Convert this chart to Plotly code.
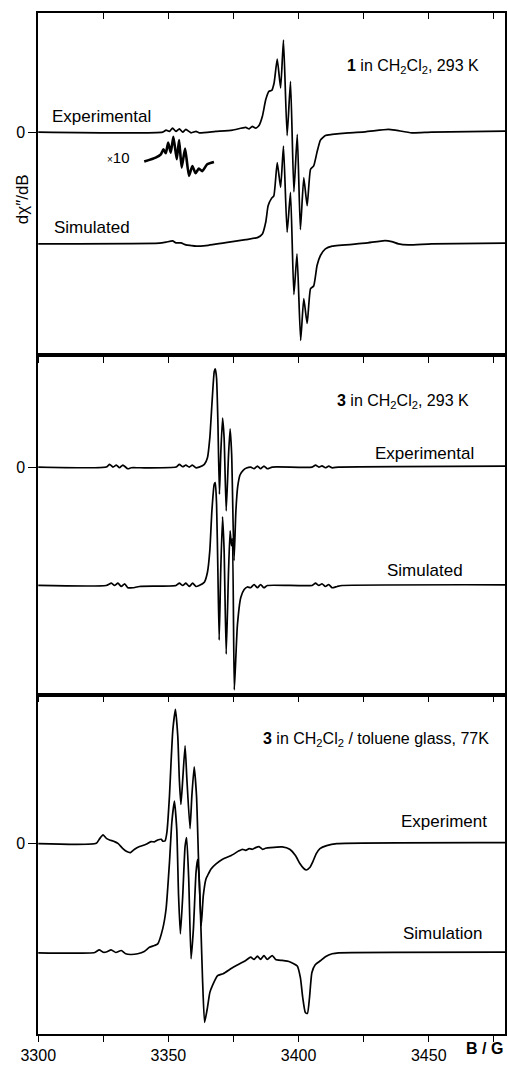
import plotly.graph_objects as go

# ---------------- data (B in Gauss, signal in arbitrary units) ----------------
TICK_B = [3300, 3325, 3350, 3375, 3400, 3425, 3450, 3475]
TICK_TEXT = ["3300", "", "3350", "", "3400", "", "3450", ""]

# Panel 1 : 1 in CH2Cl2, 293 K
P1_EXP_B = [3300.0, 3347.8, 3349.1, 3350.4, 3351.6, 3352.9, 3354.2, 3355.5, 3356.7, 3358.7,
            3360.6, 3361.8, 3368.2, 3374.6, 3379.7, 3381.0, 3382.2, 3383.5, 3384.8, 3386.1,
            3387.4, 3388.6, 3389.7, 3390.6, 3391.8, 3393.1, 3394.2, 3395.6, 3396.9, 3398.2,
            3399.5, 3400.7, 3402.0, 3403.3, 3404.6, 3405.8, 3407.1, 3408.4, 3410.3, 3412.9,
            3419.2, 3425.6, 3434.5, 3437.1, 3443.5, 3451.1, 3479.3]
P1_EXP_Y = [0, 0, 2.0, 0.7, 4.0, 0.7, 3.3, 0, 2.7, -0.7,
            0.7, -0.7, 0.7, 2.0, 4.7, 3.3, 5.7, 4.0, 6.7, 16,
            32.7, 41, 42, 49.4, 73.4, 44.4, 92.5, -3.5, 51, -60,
            -2.3, -98, -45.7, -74, -37.3, -34, -20, -8, -3.3, -2.3,
            -0.7, 0.3, 2.7, 2.0, -0.7, 0, 1.0]
P1_SIM_B = [3300.0, 3346.5, 3349.1, 3351.6, 3352.9, 3354.8, 3356.7, 3358.7, 3360.6, 3364.4,
            3374.6, 3379.7, 3384.2, 3386.1, 3387.4, 3388.3, 3389.6, 3390.5, 3391.8, 3393.1,
            3394.2, 3395.6, 3396.9, 3398.2, 3399.4, 3400.8, 3402.0, 3403.3, 3404.6, 3405.8,
            3407.1, 3408.4, 3410.3, 3412.9, 3425.6, 3433.2, 3435.8, 3438.4, 3442.2, 3451.1,
            3479.3]
P1_SIM_Y = [0, 0.7, 1.7, 3.0, 1.0, 1.0, -1.0, -1.7, -2.3, -1.7,
            2.3, 4.3, 6.3, 10, 22, 38.3, 45.7, 48.3, 81.7, 56.7,
            98.3, 11.7, 51.7, -51, -10, -97, -55, -80, -45, -42.3,
            -21.7, -11.7, -5, -2.3, 0.7, 3.3, 2.3, 0, -1, 0,
            0.7]
P1_X10_B = [3340.7, 3345.1, 3347.1, 3348.1, 3349.0, 3349.9, 3350.9, 3351.9, 3353.2, 3354.1,
            3355.1, 3356.4, 3357.9, 3359.2, 3360.4, 3361.7, 3363.0, 3364.9, 3367.5]
P1_X10_Y = [-29.6, -25.6, -22.3, -17.3, -21.3, -10.6, -20.6, -4.6, -27.3, -8,
            -35.6, -16.6, -44, -34, -41.3, -36.6, -39.3, -32.3, -30]

# Panel 2 : 3 in CH2Cl2, 293 K
P2_EXP_B = [3300.0, 3326.1, 3327.4, 3328.7, 3330.0, 3331.2, 3332.5, 3334.4, 3335.7, 3338.9,
            3352.9, 3354.2, 3355.5, 3356.7, 3358.0, 3359.2, 3360.5, 3361.8, 3363.8, 3365.0,
            3365.9, 3366.7, 3367.6, 3368.0, 3368.5, 3369.0, 3369.6, 3370.1, 3370.8, 3371.4,
            3372.2, 3373.1, 3373.7, 3374.3, 3375.2, 3375.9, 3376.6, 3377.5, 3378.8, 3380.0,
            3381.6, 3382.9, 3384.2, 3385.4, 3386.7, 3388.0, 3389.9, 3405.2, 3406.5, 3407.8,
            3409.0, 3410.3, 3411.6, 3412.9, 3415.4, 3479.3]
P2_EXP_Y = [0, 0, 2.7, 0, 2, -0.7, 2, -1.7, -0.7, -0.7,
            0, 2.7, 0.3, 2, 0, 2, -0.7, 0, 2.7, 9.3,
            29.3, 62.7, 96, 98.7, 89.3, 46, -27.3, 12.7, 49.3, 29.3,
            -44, 12.7, 38.5, 12.7, -94, -45, -20, -8, -3, -1,
            0, -1.7, 1, -1.7, 1, -1.7, 0, 0, 2, 0,
            1.3, -0.7, 1, -0.7, 0, 1]
P2_SIM_B = [3300.0, 3326.1, 3328.1, 3329.3, 3330.6, 3331.9, 3333.2, 3334.4, 3336.3, 3338.9,
            3352.9, 3354.2, 3355.5, 3356.7, 3358.0, 3359.3, 3360.6, 3361.8, 3363.8, 3365.0,
            3365.9, 3366.7, 3367.6, 3368.0, 3368.5, 3369.0, 3369.5, 3370.1, 3370.8, 3371.4,
            3372.2, 3373.1, 3373.7, 3374.2, 3374.6, 3375.3, 3375.9, 3376.5, 3377.8, 3379.1,
            3380.3, 3381.6, 3382.9, 3384.2, 3385.4, 3386.7, 3388.0, 3405.2, 3406.5, 3407.8,
            3409.0, 3410.3, 3411.6, 3412.9, 3414.8, 3416.7, 3479.3]
P2_SIM_Y = [0, 0, 2.3, 0, 2.3, -1, 1.7, -2.3, -2.3, -1,
            0, 2.3, 0, 2.3, -1, 2.3, -1, 0, 3.3, 13.3,
            35, 75, 101.7, 103.3, 81.7, 15, -55, 15, 69, 35,
            -69, 15, 55, 40, 47, -105, -72, -40, -12, -4,
            -1.5, -2.3, 1, -2.3, 1, -2.3, 0, 0, 2.3, 0,
            1.7, -1, 1, -2.3, -1, 0, 0.7]

# Panel 3 : 3 in CH2Cl2 / toluene glass, 77 K
P3_EXP_B = [3300.0, 3322.3, 3323.6, 3324.9, 3326.3, 3327.4, 3329.3, 3330.6, 3332.5, 3334.0,
            3335.4, 3337.0, 3338.9, 3341.4, 3343.3, 3344.6, 3345.9, 3347.3, 3347.8, 3348.7,
            3349.4, 3350.4, 3351.0, 3351.7, 3352.7, 3353.6, 3354.2, 3354.8, 3355.5, 3356.4,
            3357.1, 3358.3, 3359.0, 3359.9, 3360.8, 3361.6, 3362.6, 3363.4, 3364.4, 3365.0,
            3366.3, 3368.2, 3370.8, 3373.9, 3377.1, 3378.4, 3379.7, 3381.0, 3382.2, 3383.5,
            3384.8, 3386.1, 3387.3, 3389.2, 3393.7, 3396.6, 3398.8, 3400.5, 3402.0, 3403.0,
            3404.3, 3405.5, 3406.8, 3408.2, 3410.8, 3414.7, 3479.3]
P3_EXP_Y = [0, 0.3, 5, 8.7, 5, 3.7, 2, 0.3, -5, -8,
            -9, -5.7, -3, -0.7, 2, 1.7, 3.7, 4.3, 2.5, 2.7,
            11, 47.7, 81, 114.3, 135, 107.7, 64.3, 39.3, 64.3, 98.3,
            64.3, 15, 47.7, 77, 47.7, -19, -82.3, -52.3, -35.7, -32.3,
            -25.7, -20.7, -15.7, -12.3, -7.3, -5.7, -6.7, -5, -5.7, -4,
            -3, -5.7, -4.7, -4, -3.3, -5.7, -12, -20, -25, -26.5,
            -24, -18, -10, -5, -2, 0, 1]
P3_SIM_B = [3300.0, 3321.7, 3323.4, 3325.0, 3326.4, 3328.0, 3329.8, 3331.9, 3333.6, 3335.5,
            3338.2, 3340.7, 3342.7, 3344.6, 3345.9, 3347.8, 3349.1, 3350.4, 3351.3, 3352.3,
            3353.2, 3353.9, 3354.6, 3355.5, 3356.4, 3357.0, 3357.8, 3358.7, 3359.6, 3360.6,
            3361.2, 3361.9, 3362.5, 3363.1, 3363.9, 3365.0, 3365.9, 3366.9, 3368.9, 3371.0,
            3374.6, 3379.7, 3381.6, 3382.9, 3384.2, 3385.4, 3386.7, 3388.0, 3389.9, 3391.2,
            3393.7, 3396.3, 3399.5, 3400.7, 3401.6, 3402.6, 3403.4, 3404.2, 3405.1, 3406.4,
            3408.4, 3410.3, 3412.9, 3415.4, 3479.3]
P3_SIM_Y = [0, 0.3, 3, 0.5, 1, 3, 0.3, 2.3, -1, -1.7,
            -1, 1.3, 5.5, 7.3, 9, 24, 44, 90.7, 130.7, 152.3,
            124, 57.3, 19, 57.3, 107, 115.7, 74, -6, 24, 80.7,
            94, 70.7, 24, -26, -70, -55, -40, -33, -23, -21,
            -15, -7.7, -4.3, -6.7, -3.3, -6.7, -2.7, -6.7, -2.7, -6.7,
            -7.7, -8.7, -13.3, -25, -45, -60, -61, -45, -20, -12,
            -8, -4, -1, 0, 0.7]

# vertical offsets of the simulated traces (display only)
P1_SIM_OFFSET = -112.3
P2_SIM_OFFSET = -119.0
P3_SIM_OFFSET = -109.7

FONT = "Liberation Sans, Arial, Helvetica, sans-serif"

fig = go.Figure()


def add(x, y, xa, ya, offset=0.0, width=1.7):
    fig.add_trace(go.Scatter(
        x=x, y=[v + offset for v in y], xaxis=xa, yaxis=ya, mode="lines",
        line=dict(color="black", width=width, shape="spline", smoothing=0.5),
        hoverinfo="skip", showlegend=False))


add(P1_EXP_B, P1_EXP_Y, "x", "y")
add(P1_SIM_B, P1_SIM_Y, "x", "y", P1_SIM_OFFSET)
add(P1_X10_B, P1_X10_Y, "x", "y", 0.0, 2.6)
add(P2_EXP_B, P2_EXP_Y, "x2", "y2")
add(P2_SIM_B, P2_SIM_Y, "x2", "y2", P2_SIM_OFFSET)
add(P3_EXP_B, P3_EXP_Y, "x3", "y3")
add(P3_SIM_B, P3_SIM_Y, "x3", "y3", P3_SIM_OFFSET)
# carrier for the top tick axis of panel 1
fig.add_trace(go.Scatter(x=[3300], y=[0], xaxis="x4", yaxis="y", mode="lines",
                         line=dict(color="rgba(0,0,0,0)"), hoverinfo="skip", showlegend=False))

XR = [3299.9, 3479.3]
xcommon = dict(range=XR, tickmode="array", tickvals=TICK_B, ticks="outside", ticklen=6,
               tickwidth=1.3, tickcolor="black", showline=True, linewidth=1.5, linecolor="black",
               mirror=True, showgrid=False, zeroline=False,
               tickfont=dict(family=FONT, size=16, color="black"))
ycommon = dict(tickmode="array", tickvals=[0], ticktext=["0"], ticks="outside", ticklen=8,
               tickwidth=1.3, tickcolor="black", showline=True, linewidth=1.5, linecolor="black",
               mirror=True, showgrid=False, zeroline=False,
               tickfont=dict(family=FONT, size=16, color="black"))

fig.update_layout(
    width=508, height=1065,
    margin=dict(l=38, r=1, t=13, b=26),
    paper_bgcolor="white", plot_bgcolor="white",
    font=dict(family=FONT, size=16, color="black"),
    xaxis=dict(xcommon, anchor="y", showticklabels=False),
    xaxis2=dict(xcommon, anchor="y2", showticklabels=False),
    xaxis3=dict(xcommon, anchor="y3", ticktext=TICK_TEXT, showticklabels=True),
    xaxis4=dict(range=XR, overlaying="x", side="top", anchor="y", tickmode="array",
                tickvals=TICK_B, ticks="inside", ticklen=6, tickwidth=1.3, tickcolor="black",
                showticklabels=False, showline=False, showgrid=False, zeroline=False),
    yaxis=dict(ycommon, anchor="x", domain=[0.6647, 1.0], range=[-224.3, 119.7]),
    yaxis2=dict(ycommon, anchor="x2", domain=[0.3324, 0.6647], range=[-228.7, 112.3]),
    yaxis3=dict(ycommon, anchor="x3", domain=[0.0, 0.3324], range=[-191.3, 149.7]),
)

ann = []


def note(text, x, y, xref, yref, xanchor, size=16):
    ann.append(dict(text=text, x=x, y=y, xref=xref, yref=yref, xanchor=xanchor,
                    yanchor="middle", showarrow=False,
                    font=dict(family=FONT, size=size, color="black")))


CH2CL2 = "CH<sub>2</sub>Cl<sub>2</sub>"
note("Experimental", 3304.5, 15.7, "x", "y", "left", 17)
note("Simulated", 3305.2, -96.3, "x", "y", "left", 17)
note("<b>1</b> in " + CH2CL2 + ", 293 K", 3470.1, 65.7, "x", "y", "right", 16)
note("<span style='font-size:10px'>×</span>10", 3336.2, -25.3, "x", "y", "right", 15)

note("<b>3</b> in " + CH2CL2 + ", 293 K", 3466.3, 66, "x2", "y2", "right", 16)
note("Experimental", 3468.2, 13.3, "x2", "y2", "right", 17)
note("Simulated", 3464.0, -104, "x2", "y2", "right", 17)

note("<b>3</b> in " + CH2CL2 + " / toluene glass, 77K", 3473.9, 104.4, "x3", "y3", "right", 16)
note("Experiment", 3473.2, 22.7, "x3", "y3", "right", 17)
note("Simulation", 3471.3, -90.6, "x3", "y3", "right", 17)

note("<b>B / G</b>", 1.0, -0.0146, "paper", "paper", "right", 16)
ann.append(dict(text="dχ\u2033/dB", x=-0.0341, y=0.8177, xref="paper", yref="paper",
                xanchor="center", yanchor="middle", textangle=-90, showarrow=False,
                font=dict(family=FONT, size=17, color="black")))

fig.update_layout(annotations=ann)
fig.write_html("out.html",
               config={"displayModeBar": False},
               post_script="document.body.style.margin='0px';"
                           "document.body.style.overflow='hidden';")
